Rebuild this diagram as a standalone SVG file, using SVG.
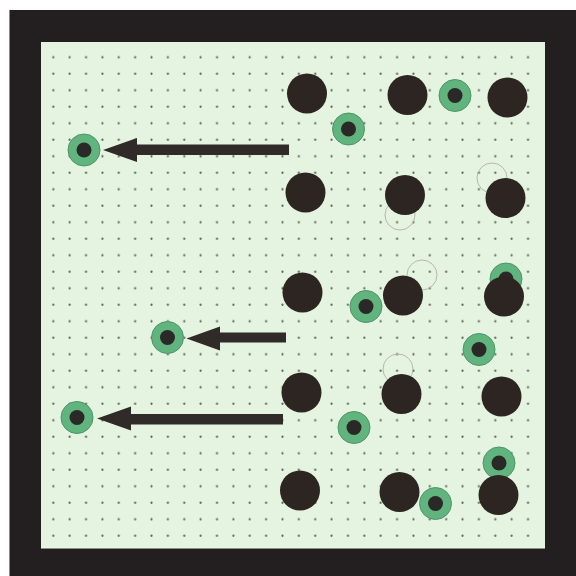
<svg xmlns="http://www.w3.org/2000/svg" xmlns:xlink="http://www.w3.org/1999/xlink" width="576" height="576" viewBox="0 0 576 576">
<defs>
<style>
.big{fill:#2d2522}
.ring{fill:#61b47e;stroke:#4f9468;stroke-width:1}
.core{fill:#2a2928}
.ghost{fill:none;stroke:#b4b8b1;stroke-width:1}
.arrow{fill:#302a28}
.dot{fill:#5e5d58}
</style>
<pattern id="dots" x="45.1" y="48.8" width="16.37" height="16.5" patternUnits="userSpaceOnUse">
<circle class="dot" cx="8.2" cy="8.5" r="1.1"/>
</pattern>
</defs>
<rect x="0" y="0" width="576" height="576" fill="#ffffff"/>
<rect x="9" y="10" width="567" height="566" fill="#231f20"/>
<rect x="9" y="10" width="1" height="566" fill="#8a8a8a"/>
<rect x="41" y="42" width="504" height="506" fill="#e5f4e1"/>
<rect x="41" y="547.5" width="504" height="1" fill="#f4f7f2"/>
<rect x="45" y="49" width="496" height="495" fill="url(#dots)"/>
<g id="ghosts">
<circle class="ghost" cx="400" cy="215" r="15"/>
<circle class="ghost" cx="492" cy="178" r="15"/>
<circle class="ghost" cx="422" cy="275" r="15"/>
<circle class="ghost" cx="398" cy="369" r="15"/>
</g>
<g id="n-r3c3-ring"><circle class="ring" cx="506" cy="279" r="16"/><circle class="core" cx="506" cy="279" r="7.5"/></g>
<g id="n-r5c3-ring"><circle class="ring" cx="499" cy="463" r="16"/><circle class="core" cx="499" cy="463" r="7.5"/></g>
<g id="n-r1c1"><circle class="big" cx="307" cy="93.5" r="20"/></g>
<g id="n-r1c2"><circle class="big" cx="407.5" cy="95" r="20"/></g>
<g id="n-r1c3"><circle class="big" cx="507.5" cy="97.5" r="20"/></g>
<g id="n-r2c1"><circle class="big" cx="305.5" cy="192.5" r="20"/></g>
<g id="n-r2c2"><circle class="big" cx="405" cy="195" r="20"/></g>
<g id="n-r2c3"><circle class="big" cx="505.5" cy="198" r="20"/></g>
<g id="n-r3c1"><circle class="big" cx="302.5" cy="292.5" r="20"/></g>
<g id="n-r3c2"><circle class="big" cx="403" cy="295.5" r="20"/></g>
<g id="n-r3c3"><circle class="big" cx="504" cy="296.5" r="20"/></g>
<g id="n-r4c1"><circle class="big" cx="301.5" cy="392.5" r="20"/></g>
<g id="n-r4c2"><circle class="big" cx="401.5" cy="394" r="20"/></g>
<g id="n-r4c3"><circle class="big" cx="501.5" cy="396.5" r="20"/></g>
<g id="n-r5c1"><circle class="big" cx="300" cy="490.5" r="20"/></g>
<g id="n-r5c2"><circle class="big" cx="399.5" cy="492" r="20"/></g>
<g id="n-r5c3"><circle class="big" cx="498.5" cy="495" r="20"/></g>
<g id="n-g1"><circle class="ring" cx="348.5" cy="129" r="16"/><circle class="core" cx="348.5" cy="129" r="7.5"/></g>
<g id="n-g2"><circle class="ring" cx="455" cy="95.5" r="16"/><circle class="core" cx="455" cy="95.5" r="7.5"/></g>
<g id="n-g3"><circle class="ring" cx="366" cy="306.5" r="16"/><circle class="core" cx="366" cy="306.5" r="7.5"/></g>
<g id="n-g4"><circle class="ring" cx="479" cy="349.5" r="16"/><circle class="core" cx="479" cy="349.5" r="7.5"/></g>
<g id="n-g5"><circle class="ring" cx="354" cy="427.5" r="16"/><circle class="core" cx="354" cy="427.5" r="7.5"/></g>
<g id="n-g6"><circle class="ring" cx="435.5" cy="503.5" r="16"/><circle class="core" cx="435.5" cy="503.5" r="7.5"/></g>
<g id="n-left1"><circle class="ring" cx="84" cy="150" r="16"/><circle class="core" cx="84" cy="150" r="7.5"/></g>
<g id="n-left2"><circle class="ring" cx="167.5" cy="337.5" r="16"/><circle class="core" cx="167.5" cy="337.5" r="7.5"/></g>
<g id="n-left3"><circle class="ring" cx="77" cy="417.5" r="16"/><circle class="core" cx="77" cy="417.5" r="7.5"/></g>
<g id="connectors">
<polygon class="arrow" points="289,144.5 137,144.5 137,138 103,150 137,162 137,155 289,155"/>
<polygon class="arrow" points="286,332.5 220,332.5 220,326.5 186.5,338.5 220,350.5 220,342.5 286,342.5"/>
<polygon class="arrow" points="283,414 131,414 131,406.5 97,418.5 131,430.5 131,424.5 283,424.5"/>
</g>
</svg>
